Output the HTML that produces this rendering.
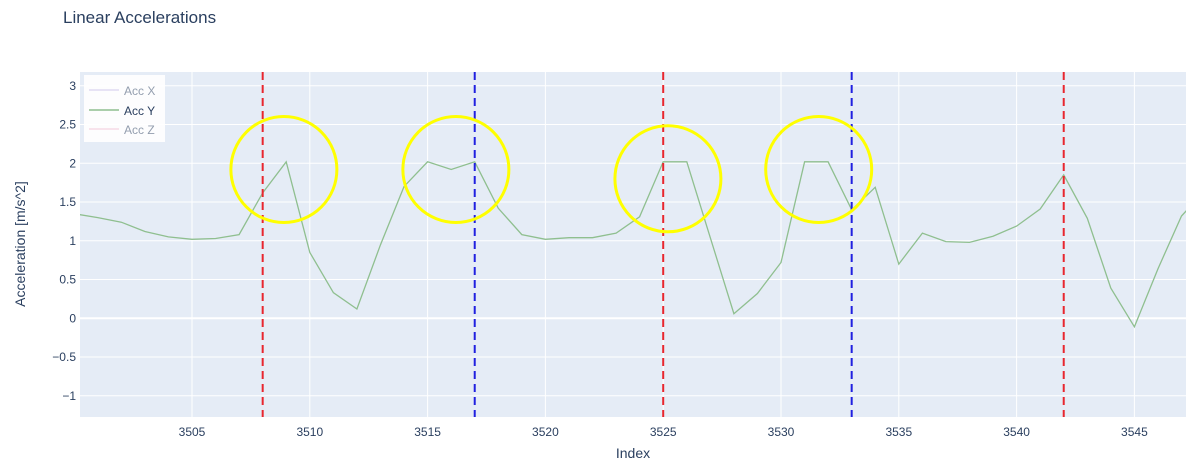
<!DOCTYPE html>
<html><head><meta charset="utf-8"><style>
body{margin:0;background:#fff;}
svg{display:block;font-family:"Liberation Sans",sans-serif;}
</style></head><body>
<svg id="chart" width="1202" height="468">
<text x="63" y="23" font-size="17" fill="#2a3f5f">Linear Accelerations</text>
<rect x="80" y="72" width="1106" height="345" fill="#e5ecf6"/>
<g id="grid"></g>
<g id="marks"></g>
<g id="xticks"></g>
<g id="yticks"></g>
<text x="633" y="458" font-size="14" fill="#2a3f5f" text-anchor="middle">Index</text>
<text transform="translate(25,244) rotate(-90)" font-size="14" fill="#2a3f5f" text-anchor="middle">Acceleration [m/s^2]</text>
<g>
<rect x="84" y="75" width="81" height="67" fill="#fff" opacity="0.9"/>
<g opacity="0.5"><line x1="89" y1="90" x2="119" y2="90" stroke="#c3b8e8" stroke-width="1.5"/><text x="124" y="95" font-size="12" fill="#2a3f5f">Acc X</text></g>
<g><line x1="89" y1="110" x2="119" y2="110" stroke="#8fbf8f" stroke-width="1.5"/><text x="124" y="115" font-size="12" fill="#2a3f5f">Acc Y</text></g>
<g opacity="0.5"><line x1="89" y1="129" x2="119" y2="129" stroke="#f0b8d0" stroke-width="1.5"/><text x="124" y="134" font-size="12" fill="#2a3f5f">Acc Z</text></g>
</g>
</svg>
<script>
const indices=[3500,3501,3502,3503,3504,3505,3506,3507,3508,3509,3510,3511,3512,3513,3514,3515,3516,3517,3518,3519,3520,3521,3522,3523,3524,3525,3526,3527,3528,3529,3530,3531,3532,3533,3534,3535,3536,3537,3538,3539,3540,3541,3542,3543,3544,3545,3546,3547,3548];
const accY=[1.35,1.30,1.24,1.12,1.05,1.02,1.03,1.08,1.62,2.02,0.85,0.33,0.12,0.95,1.70,2.02,1.92,2.02,1.42,1.08,1.02,1.04,1.04,1.10,1.31,2.02,2.02,1.04,0.06,0.32,0.72,2.02,2.02,1.40,1.69,0.70,1.10,0.99,0.98,1.06,1.19,1.41,1.85,1.29,0.39,-0.11,0.64,1.32,1.65];
const redLines=[3508,3525,3542];
const blueLines=[3517,3533];
const circleCenters=[[3508.9,1.92],[3516.2,1.92],[3525.2,1.8],[3531.6,1.92]];
const xTicks=[3505,3510,3515,3520,3525,3530,3535,3540,3545];
const yTicks=[-1,-0.5,0,0.5,1,1.5,2,2.5,3];
const X0=80,X1=1186,Y0=72,Y1=417;
const xs=v=>192+(v-3505)*23.56;
const ys=v=>318.3-v*77.5;
const NS="http://www.w3.org/2000/svg";
function mk(tag,attrs,parent){const e=document.createElementNS(NS,tag);for(const k in attrs)e.setAttribute(k,attrs[k]);parent.appendChild(e);return e;}
const grid=document.getElementById('grid'),marks=document.getElementById('marks'),xt=document.getElementById('xticks'),yt=document.getElementById('yticks');
xTicks.forEach(t=>{
 const l=mk('line',{x1:xs(t),x2:xs(t),y1:Y0,y2:Y1,stroke:'#fff','stroke-width':1},grid);
 
 
 const tx=mk('text',{x:xs(t),y:436,'font-size':12,fill:'#2a3f5f','text-anchor':'middle'},xt);
 tx.textContent=t;
 
 
});
yTicks.forEach(t=>{
 const l=mk('line',{x1:X0,x2:X1,y1:ys(t),y2:ys(t),stroke:'#fff','stroke-width':t===0?2:1},grid);
 
 
 const tx=mk('text',{x:76,y:ys(t)+4,'font-size':12,fill:'#2a3f5f','text-anchor':'end'},yt);
 tx.textContent=t<0?'\u2212'+Math.abs(t):String(t);
 
 
});
const clip=mk('clipPath',{id:'pc'},document.getElementById('chart'));
mk('rect',{x:X0,y:Y0,width:X1-X0,height:Y1-Y0},clip);
marks.setAttribute('clip-path','url(#pc)');
const pts=indices.map((v,i)=>xs(v).toFixed(1)+','+ys(accY[i]).toFixed(1)).join(' ');
const line=mk('polyline',{points:pts,fill:'none',stroke:'#8fbf8f','stroke-width':1.3},marks);


redLines.forEach(v=>{
 const l=mk('line',{x1:xs(v),x2:xs(v),y1:Y0,y2:Y1,stroke:'#e8262e','stroke-width':2,'stroke-dasharray':'8,5'},marks);
 
 
});
blueLines.forEach(v=>{
 const l=mk('line',{x1:xs(v),x2:xs(v),y1:Y0,y2:Y1,stroke:'#2020e0','stroke-width':2,'stroke-dasharray':'8,5'},marks);
 
 
});
circleCenters.forEach(c=>{
 const e=mk('circle',{cx:xs(c[0]),cy:ys(c[1]),r:53,fill:'none',stroke:'#ffff00','stroke-width':3},marks);
 
 
});
</script>
</body></html>
